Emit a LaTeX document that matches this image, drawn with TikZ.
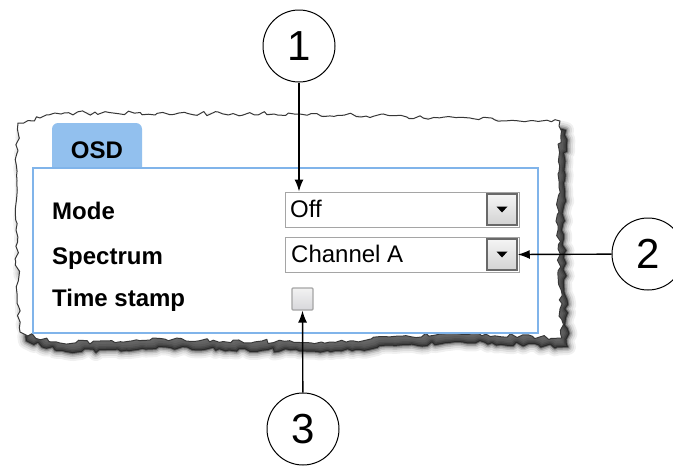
\documentclass[tikz,border=0pt]{standalone}
\usepackage{fontspec}
\setmainfont{Liberation Sans}
\usetikzlibrary{positioning,decorations.pathmorphing,arrows.meta}
\definecolor{tabblue}{RGB}{146,192,238}
\definecolor{frameblue}{RGB}{128,180,234}
\definecolor{edgegray}{RGB}{55,55,55}
\definecolor{boxgray}{RGB}{165,165,165}
\definecolor{btngray}{RGB}{105,105,105}

\begin{document}
\begin{tikzpicture}[x=1pt, y=-1pt,
		paper/.style={insert path={(18,123) -- (40,118) -- (64,113) -- (300,114) -- (470,118) -- (560,121) -- (558,230) -- (562,338) -- (450,333) -- (330,342) -- (150,340) -- (60,343) -- (20,332) -- (16,230) -- cycle}},
		torn/.style={decoration={random steps, segment length=5pt, amplitude=2.2pt}, decorate},
		fieldname/.style={anchor=base west, inner sep=0pt, font=\fontsize{24}{28}\selectfont\bfseries},
		fieldvalue/.style={anchor=base west, inner sep=0pt, font=\fontsize{24}{28}\selectfont},
		dropbox/.style={draw=boxgray, line width=1pt, fill=white, minimum width=234pt, minimum height=35pt, inner sep=0pt},
		dropbtn/.style={draw=btngray, line width=1.5pt, top color=gray!8, bottom color=gray!35, minimum width=30pt, minimum height=31pt, inner sep=0pt},
		callout/.style={draw, circle, line width=1pt, minimum size=72pt, inner sep=0pt, font=\fontsize{42}{48}\selectfont},
		pointer/.style={-{Latex[length=12pt, width=9pt]}, line width=1.4pt},
		]
		\useasboundingbox (0,0) rectangle (673,466);

		% torn paper with shadow
		\foreach \w/\op in {16/0.06, 12/0.08, 8/0.12, 5/0.18, 2/0.35} {
			\pgfmathsetseed{42}
			\path[torn, shift={(6,9)}, draw=black, fill=black, line width=\w pt, line join=round, opacity=\op, paper];
		}
		\pgfmathsetseed{42}
		\path[torn, draw=edgegray, fill=white, line width=1pt, line join=round, paper];

		% tab and frame
		\node[fill=tabblue, rounded corners=6pt, minimum width=90pt, minimum height=55pt, inner sep=0pt,
			font=\fontsize{24}{28}\selectfont\bfseries] (osd) at (97,150.5) {OSD};
		\node[draw=frameblue, line width=2.5pt, fill=white, minimum width=505pt, minimum height=165pt] (panel) at (285.5,250.5) {};

		% fields
		\node[fieldname] (mode) at (52,219) {Mode};
		\node[fieldname] (spectrum) at (52,264) {Spectrum};
		\node[fieldname] (stamp) at (52,306) {Time stamp};

		\node[dropbox] (modebox) at (402,209.5) {};
		\node[dropbox] (specbox) at (402,254.5) {};
		\node[fieldvalue] (off) at (290,217) {Off};
		\node[fieldvalue] (chan) at (291,262) {Channel A};
		\node[dropbtn] (modebtn) at (502,209.5) {};
		\node[dropbtn] (specbtn) at (502,254.5) {};
		\fill ([xshift=-5.5pt, yshift=3pt]modebtn.center) -- ++(11,0) -- ++(-5.5,6) -- cycle;
		\fill ([xshift=-5.5pt, yshift=3pt]specbtn.center) -- ++(11,0) -- ++(-5.5,6) -- cycle;
		\node[draw=boxgray, line width=1.2pt, rounded corners=1pt, top color=gray!10, bottom color=blue!5!gray!30,
			minimum width=21pt, minimum height=22pt, inner sep=0pt] (check) at (302.5,299) {};

		% callouts
		\node[callout] (one) at (299,46) {1};
		\node[callout] (two) at (648,254) {2};
		\node[callout] (three) at (303,429) {3};

		\draw[pointer] (one) -- (one |- modebox.north);
		\draw[pointer] (two) -- (specbtn.east);
		\draw[pointer] (three) -- (check.south);
	\end{tikzpicture}
\end{document}
